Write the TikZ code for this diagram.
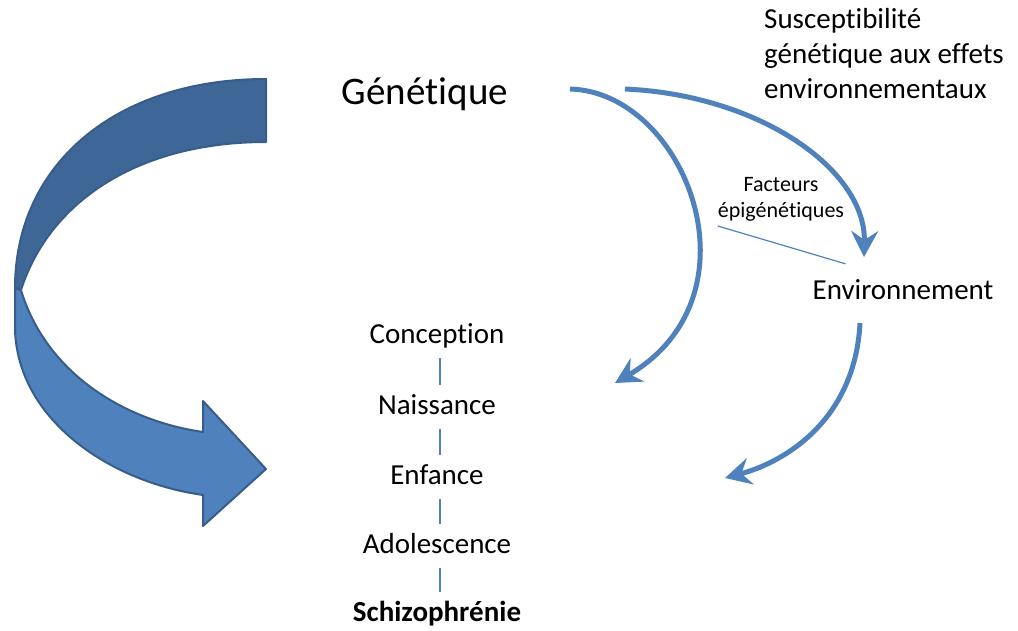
\documentclass[tikz,border=0pt]{standalone}
\usepackage{fontspec}
\setmainfont{Carlito}[Ligatures=NoCommon]
\usetikzlibrary{arrows.meta,calc}
\definecolor{accent}{HTML}{4F81BD}
\definecolor{accentdark}{HTML}{3E6696}
\definecolor{accentline}{HTML}{385D8A}
\begin{document}
\begin{tikzpicture}[x=1pt,y=-1pt,
  lbl/.style={inner sep=0pt, font=\fontsize{29}{35}\selectfont},
  stage/.style={lbl, anchor=base, text height=20pt, text depth=6pt},
  small/.style={inner sep=0pt, font=\fontsize{22}{25.5}\selectfont, align=center},
  flow/.style={draw=accent, line width=5pt,
    -{Stealth[length=26pt, width=27pt, inset=9pt]}},
  tick/.style={draw=accent, line width=1.5pt, shorten <=9pt, shorten >=9pt},
  thin/.style={draw=accent, line width=1.2pt},
  band/.style={draw=accentline, line width=2pt, line join=round}
]
\useasboundingbox (0,0) rectangle (1018,630);

% large folded arrow on the left: light front band with head, dark back band
\path[band, fill=accent]
  (15,288) -- (21,290) .. controls (45,370) and (120,420) .. (203,432)
  -- (203,401) -- (266,469) -- (203,526) -- (203,495)
  .. controls (110,482) and (18,420) .. (15,330) -- cycle;
\path[band, fill=accentdark]
  (266,79) .. controls (115,79) and (15,165) .. (15,288)
  -- (21,290) .. controls (50,200) and (140,142) .. (266,142) -- cycle;

% labels (multi-line nodes are anchored on their last baseline)
\node[lbl, anchor=base, font=\fontsize{39}{47}\selectfont] (gen) at (425,104) {Génétique};
\node[lbl, anchor=base west, align=left] (susc) at (764,98)
  {Susceptibilité\\génétique aux effets\\environnementaux};
\node[small, anchor=base] (fact) at (781,217) {Facteurs\\épigénétiques};
\node[stage] (env) at (903,299) {Environnement};

\node[stage] (conc) at (437,343) {Conception};
\node[stage] (nais) at (437,414) {Naissance};
\node[stage] (enf)  at (437,484) {Enfance};
\node[stage] (ado)  at (437,553) {Adolescence};
\node[stage, font=\fontsize{29}{35}\selectfont\bfseries] (schizo) at (437,621) {Schizophrénie};

% timeline separators
\draw[tick] ([xshift=3pt]conc.south) -- ([xshift=3pt]nais.north);
\draw[tick] ([xshift=3pt]nais.south) -- ([xshift=3pt]enf.north);
\draw[tick] ([xshift=3pt]enf.south) -- ([xshift=3pt]ado.north);
\draw[tick] ([xshift=3pt]ado.south) -- ([xshift=3pt]schizo.north);

% curved influence arrows
\coordinate (g1) at (570,89);
\coordinate (g2) at (625,89);
\coordinate (c1) at (615,383);
\coordinate (e1) at (864,257);
\coordinate (e2) at (860,323);
\coordinate (t1) at (725,478);
\draw[flow] (g1) .. controls (685,92) and (765,295) .. (c1);
\draw[flow] (g2) .. controls (760,95) and (866,170) .. (e1);
\draw[flow] (e2) .. controls (855,420) and (785,462) .. (t1);

% link from the epigenetic label towards the environment
\draw[thin] ([yshift=-5pt]fact.south west) -- ($(env.north west)+(33,-15)$);
\end{tikzpicture}
\end{document}
